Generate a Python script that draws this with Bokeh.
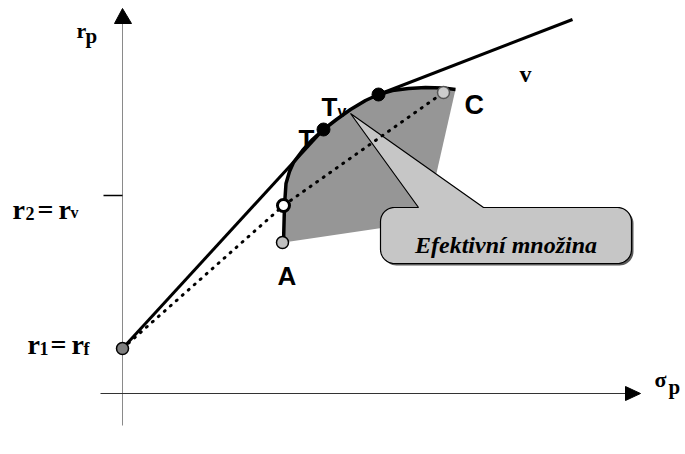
import numpy as np
from bokeh.plotting import figure
from bokeh.models import Range1d
from bokeh.core.properties import value
from bokeh.embed import file_html
from bokeh.resources import INLINE

W, H = 685, 454

# ---- diagram data (canvas units: x to the right, y downward) ----
# efficient frontier A -> C
frontier_x = [283, 284, 285.5, 289, 293, 302, 312, 323, 336, 350, 365, 378, 392, 408, 425, 443, 455]
frontier_y = [242, 205, 183, 171, 162, 150, 139, 129, 119, 109, 100, 94, 90, 88, 87, 87.5, 89]
# lower-right corner of the opportunity set (hidden behind callout)
set_corner_x = [425]
set_corner_y = [221]

# key points
rf_pt = (122, 348)
A_pt = (282, 242)
open_pt = (283, 205)
T_pt = (323, 129)
Tv_pt = (378, 94)
C_pt = (443, 92)
v_end = (572, 19)

# axes
yaxis_x = [122, 122]
yaxis_y = [425, 22]
xaxis_x = [100, 626]
xaxis_y = [393, 393]
tick_x = [103, 122]
tick_y = [195, 195]
arrow_up_x = [122, 114, 131]
arrow_up_y = [8, 23, 23]
arrow_right_x = [640, 625, 625]
arrow_right_y = [393, 386, 400]

# callout
box_left, box_right, box_top, box_bottom, box_r = 380, 631, 207, 263, 14
ptr_left, ptr_right = 418, 483
ptr_tip = (350, 113)
callout_text = "Efektivní množina"

p = figure(width=W, height=H, x_range=Range1d(0, W), y_range=Range1d(H, 0),
           output_backend="svg", toolbar_location=None, min_border=0,
           x_axis_location=None, y_axis_location=None)
p.grid.visible = False
p.outline_line_color = None
p.background_fill_color = "white"
p.border_fill_color = "white"

# opportunity set (gray area)
patch_x = frontier_x + set_corner_x
patch_y = frontier_y + set_corner_y
p.patch(patch_x, patch_y, fill_color="#969696", line_color=None)

# axes
p.line(yaxis_x, yaxis_y, line_color="#8a8a8a", line_width=1)
p.line(xaxis_x, xaxis_y, line_color="#333333", line_width=1)
p.patch(arrow_up_x, arrow_up_y, fill_color="black", line_color="black")
p.patch(arrow_right_x, arrow_right_y, fill_color="black", line_color="black")
p.line(tick_x, tick_y, line_color="black", line_width=1.5)

# callout outline
def callout_outline(x0, x1, y0, y1, r, pl, pr, tip):
    xs, ys = [], []
    def arc(cx, cy, a0, a1):
        t = np.linspace(a0, a1, 12)
        xs.extend(cx + r * np.cos(t))
        ys.extend(cy + r * np.sin(t))
    xs.append(pr); ys.append(y0)
    arc(x1 - r, y0 + r, -np.pi / 2, 0)
    arc(x1 - r, y1 - r, 0, np.pi / 2)
    arc(x0 + r, y1 - r, np.pi / 2, np.pi)
    arc(x0 + r, y0 + r, np.pi, 1.5 * np.pi)
    xs.append(pl); ys.append(y0)
    xs.append(tip[0]); ys.append(tip[1])
    xs.append(pr); ys.append(y0)
    return list(xs), list(ys)

cx, cy = callout_outline(box_left, box_right, box_top, box_bottom, box_r, ptr_left, ptr_right, ptr_tip)
p.patch([x + 2 for x in cx], [y + 2 for y in cy], fill_color="#5a5a5a", line_color=None)
p.patch(cx, cy, fill_color="#c6c6c6", line_color="black", line_width=1.2)

# dotted line rf -> open point -> C
p.line([rf_pt[0], open_pt[0], C_pt[0]], [rf_pt[1], open_pt[1], C_pt[1]],
       line_color="black", line_width=3, line_dash="1 7", line_cap="round")

# solid lines
p.line([rf_pt[0], T_pt[0]], [rf_pt[1], T_pt[1]], line_color="black", line_width=3)
p.line([Tv_pt[0], v_end[0]], [Tv_pt[1], v_end[1]], line_color="black", line_width=3)
p.line(frontier_x, frontier_y, line_color="black", line_width=3.5, line_join="round")

# points
p.scatter([rf_pt[0]], [rf_pt[1]], size=12, fill_color="#808080", line_color="black", line_width=1.5)
p.scatter([A_pt[0]], [A_pt[1]], size=12, fill_color="#c0c0c0", line_color="black", line_width=1.5)
p.scatter([open_pt[0]], [open_pt[1]], size=12, fill_color="white", line_color="black", line_width=3)
p.scatter([T_pt[0], Tv_pt[0]], [T_pt[1], Tv_pt[1]], size=13, fill_color="black", line_color="black")
p.scatter([C_pt[0]], [C_pt[1]], size=12, fill_color="#cccccc", line_color="#555555", line_width=1.5)

serif = value("Liberation Serif")
sans = value("Liberation Sans")

def txt(x, y, s, font, size, style="bold", align="left"):
    p.text([x], [y], text=[s], text_font=font, text_font_size=f"{size}px",
           text_font_style=style, text_baseline="alphabetic", text_align=align, text_color="black")

# axis labels
txt(76, 30, "r", serif, 22)
txt(85, 35, "p", serif, 21)
txt(654, 379, "σ", serif, 22)
txt(668, 386, "p", serif, 21)

# r2 = rv
txt(12, 209, "r", serif, 28)
txt(25, 213, "2", serif, 18)
txt(37, 209, "=", serif, 28)
txt(58, 209, "r", serif, 28)
txt(70, 212, "v", serif, 16)

# r1 = rf
txt(27, 344, "r", serif, 28)
txt(39, 348, "1", serif, 18)
txt(50, 344, "=", serif, 28)
txt(71, 344, "r", serif, 28)
txt(83, 348, "f", serif, 18)

# point labels
txt(298, 138, "T", sans, 26)
txt(321, 106, "T", sans, 26)
txt(337, 111, "v", sans, 16)
txt(277, 275, "A", sans, 26)
txt(464, 104, "C", sans, 27)
txt(519, 73, "v", serif, 24)

# callout text
txt((box_left + box_right) / 2, 244, callout_text, serif, 24, style="bold italic", align="center")

open("out.html", "w").write(file_html(p, INLINE))
